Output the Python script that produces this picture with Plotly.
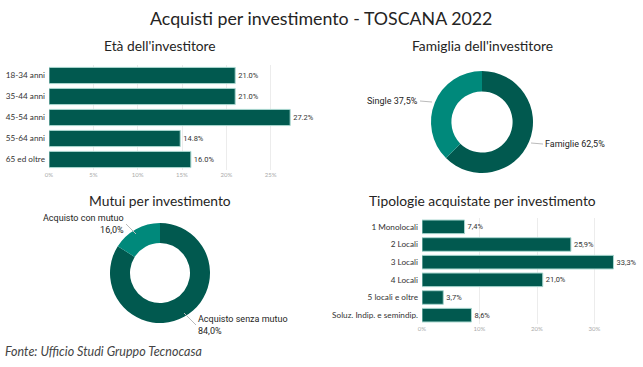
import plotly.graph_objects as go

W, H = 643, 367

# ---- data ----
eta_cat = ["18-34 anni", "35-44 anni", "45-54 anni", "55-64 anni", "65 ed oltre"]
eta_val = [21.0, 21.0, 27.2, 14.8, 16.0]

fam_lab = ["Famiglie", "Single"]
fam_val = [62.5, 37.5]

mutui_lab = ["Acquisto senza mutuo", "Acquisto con mutuo"]
mutui_val = [84.0, 16.0]

tip_cat = ["1 Monolocali", "2 Locali", "3 Locali", "4 Locali", "5 locali e oltre", "Soluz. Indip. e semindip."]
tip_val = [7.4, 25.9, 33.3, 21.0, 3.7, 8.6]

eta_ticks = [0, 5, 10, 15, 20, 25]
tip_ticks = [0, 10, 20, 30]

DARK = "#01594F"
LIGHT = "#00897B"
FONT = "Lato, Open Sans, sans-serif"
LBLFONT = "Roboto, sans-serif"


def px_x(p):
    return p / W


def px_y(p):
    return 1 - p / H


def pct_dot(v):
    return f"{v:.1f}%"


def pct_comma(v):
    return f"{v:.1f}%".replace(".", ",")


fig = go.Figure()

fig.add_trace(go.Bar(
    x=eta_val, y=eta_cat, orientation="h",
    marker=dict(color=DARK, line=dict(color="#a9d6cf", width=1)),
    text=[pct_dot(v) for v in eta_val], textposition="outside", cliponaxis=False,
    textfont=dict(family=LBLFONT, size=7.5, color="#333"),
    xaxis="x", yaxis="y", hoverinfo="skip",
))

fig.add_trace(go.Bar(
    x=tip_val, y=tip_cat, orientation="h",
    marker=dict(color=DARK, line=dict(color="#a9d6cf", width=1)),
    text=[pct_comma(v) for v in tip_val], textposition="outside", cliponaxis=False,
    textfont=dict(family=LBLFONT, size=7.5, color="#333"),
    xaxis="x2", yaxis="y2", hoverinfo="skip",
))

fig.add_trace(go.Pie(
    labels=fam_lab, values=fam_val, hole=0.6, sort=False, direction="clockwise",
    rotation=0, marker=dict(colors=[DARK, LIGHT]), textinfo="none",
    domain=dict(x=[px_x(431), px_x(533)], y=[px_y(173), px_y(71)]),
    hoverinfo="skip",
))

fig.add_trace(go.Pie(
    labels=mutui_lab, values=mutui_val, hole=0.6, sort=False, direction="clockwise",
    rotation=0, marker=dict(colors=[DARK, LIGHT]), textinfo="none",
    domain=dict(x=[px_x(110), px_x(210)], y=[px_y(323), px_y(223)]),
    hoverinfo="skip",
))

axis_common = dict(showline=False, zeroline=False, ticks="", automargin=False)

layout = dict(
    width=W, height=H,
    margin=dict(l=0, r=0, t=0, b=0, autoexpand=False),
    paper_bgcolor="white", plot_bgcolor="white",
    showlegend=False, bargap=0.23,
    font=dict(family=FONT, color="#252423"),
    xaxis=dict(domain=[px_x(49), px_x(315)], range=[0, 30], tickvals=eta_ticks,
               ticktext=[f"{t}%" for t in eta_ticks], showgrid=True, gridcolor="#ececec",
               tickfont=dict(size=6, color="#aaaaaa"), anchor="y", **axis_common),
    yaxis=dict(domain=[px_y(170), px_y(65)], autorange="reversed", showgrid=False,
               tickfont=dict(size=8.2, color="#333"), anchor="x", ticklabelstandoff=3,
               **axis_common),
    xaxis2=dict(domain=[px_x(422), px_x(629)], range=[0, 36], tickvals=tip_ticks,
                ticktext=[f"{t}%" for t in tip_ticks], showgrid=True, gridcolor="#ececec",
                tickfont=dict(size=6, color="#aaaaaa"), anchor="y2", **axis_common),
    yaxis2=dict(domain=[px_y(324), px_y(218)], autorange="reversed", showgrid=False,
                tickfont=dict(size=8.2, color="#333"), anchor="x2", ticklabelstandoff=3,
                **axis_common),
)
fig.update_layout(**layout)

ann = []


def title(text, xc, yc, size):
    ann.append(dict(text=text, x=px_x(xc), y=px_y(yc), xref="paper", yref="paper",
                    xanchor="center", yanchor="middle", showarrow=False,
                    font=dict(size=size, color="#252423", family=FONT)))


title("Acquisti per investimento - TOSCANA 2022", 321, 18, 17.8)
title("Età dell'investitore", 160, 46, 13.8)
title("Famiglia dell'investitore", 482, 46, 13.8)
title("Mutui per investimento", 160, 200, 13.8)
title("Tipologie acquistate per investimento", 482, 200, 13.8)

lblfont = dict(family=LBLFONT, size=9, color="#252423")

# donut labels with leader lines
ann.append(dict(text=f"{fam_lab[1]} {pct_comma(fam_val[1])}", x=px_x(432), y=px_y(102),
                xref="paper", yref="paper", showarrow=True, arrowhead=0, arrowwidth=1,
                arrowcolor="#bbbbbb", ax=-12, ay=-1, xanchor="right", yanchor="middle",
                font=lblfont))
ann.append(dict(text=f"{fam_lab[0]} {pct_comma(fam_val[0])}", x=px_x(531), y=px_y(143),
                xref="paper", yref="paper", showarrow=True, arrowhead=0, arrowwidth=1,
                arrowcolor="#bbbbbb", ax=12, ay=1, xanchor="left", yanchor="middle",
                font=lblfont))
ann.append(dict(text=f"{mutui_lab[1]}<br>{pct_comma(mutui_val[1])}", x=px_x(136), y=px_y(234),
                xref="paper", yref="paper", showarrow=True, arrowhead=0, arrowwidth=1,
                arrowcolor="#bbbbbb", ax=-10, ay=-10, xanchor="right", yanchor="middle",
                align="right", font=lblfont))
ann.append(dict(text=f"{mutui_lab[0]}<br>{pct_comma(mutui_val[0])}", x=px_x(184), y=px_y(313),
                xref="paper", yref="paper", showarrow=True, arrowhead=0, arrowwidth=1,
                arrowcolor="#bbbbbb", ax=12, ay=12, xanchor="left", yanchor="middle",
                align="left", font=lblfont))

ann.append(dict(text="<i>Fonte: Ufficio Studi Gruppo Tecnocasa</i>", x=px_x(3), y=px_y(351),
                xref="paper", yref="paper", xanchor="left", yanchor="middle", showarrow=False,
                font=dict(family=FONT, size=12.5, color="#444")))

fig.update_layout(annotations=ann)
fig.write_html("out.html", config={"displayModeBar": False},
               post_script="document.body.style.margin='0';document.body.style.overflow='hidden';")
